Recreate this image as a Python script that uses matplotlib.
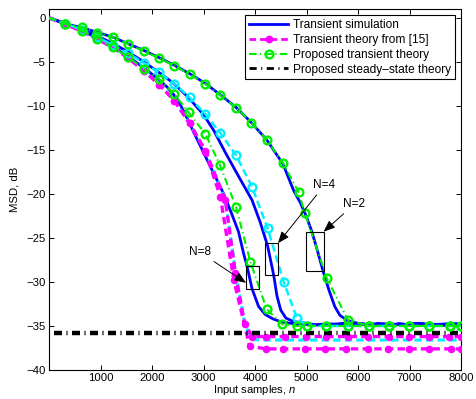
import matplotlib
matplotlib.use("Agg")
import matplotlib.pyplot as plt
from matplotlib.lines import Line2D
from matplotlib.patches import Rectangle

plt.rcParams['font.family'] = ['Liberation Sans', 'DejaVu Sans']
plt.rcParams['mathtext.fontset'] = 'custom'
plt.rcParams['mathtext.it'] = 'Liberation Sans:italic'
plt.rcParams['mathtext.rm'] = 'Liberation Sans'

# ---------------- data ----------------
# Simulations (blue)
sim2_x = [0, 320, 632, 936, 1240, 1537, 1840, 2145, 2436, 2732, 3037, 3327, 3638, 3929, 4233, 4543,
          4749, 4880, 5000, 5105, 5210, 5318, 5440, 5550, 5650, 5800, 6000, 6200, 6400, 6600, 6800,
          7000, 7200, 7400, 7600, 7800, 8000]
sim2_y = [0, -0.7, -1.1, -1.65, -2.2, -2.95, -3.7, -4.55, -5.4, -6.35, -7.45, -8.75, -10.2, -11.9,
          -13.9, -16.6, -19.6, -21.0, -22.6, -24.3, -26.4, -28.7, -31.0, -32.8, -33.8, -34.4, -34.7,
          -34.85, -34.7, -34.9, -34.75, -34.95, -34.7, -34.85, -34.95, -34.7, -34.85]

sim4_x = [0, 300, 600, 900, 1200, 1500, 1800, 2100, 2400, 2700, 3000, 3200, 3424, 3700, 3942, 4100,
          4245, 4362, 4427, 4500, 4600, 4749, 5000, 5200, 5400, 5600, 5800, 6000, 6200, 6400, 6600,
          6800, 7000, 7200, 7400, 7600, 7800, 8000]
sim4_y = [0, -0.6, -1.25, -1.95, -2.8, -3.75, -4.85, -6.05, -7.35, -9.0, -11.0, -12.8, -15.3, -18.2,
          -20.7, -23.2, -25.9, -29.2, -31.6, -33.2, -34.1, -34.5, -34.7, -34.9, -34.75, -34.8, -34.95,
          -34.7, -34.85, -34.8, -34.95, -34.75, -34.85, -34.7, -34.9, -34.8, -34.75, -34.9]

sim8_x = [0, 300, 600, 900, 1200, 1500, 1800, 2100, 2300, 2488, 2650, 2810, 3134, 3392, 3550, 3680,
          3780, 3845, 3942, 4070, 4200, 4350, 4491, 4700, 4900, 5100, 5300, 5500, 5700, 5900, 6100,
          6300, 6500, 6700, 6900, 7100, 7300, 7500, 7700, 7900, 8000]
sim8_y = [0, -0.65, -1.35, -2.2, -3.15, -4.25, -5.5, -6.85, -7.9, -9.2, -11.0, -13.0, -16.9, -20.0,
          -22.3, -24.3, -26.8, -28.2, -30.75, -32.8, -33.7, -34.2, -34.5, -34.7, -34.75, -34.9, -34.8,
          -34.85, -34.7, -34.9, -34.8, -34.95, -34.75, -34.8, -34.9, -34.7, -34.85, -34.8, -34.95,
          -34.75, -34.8]

# Transient theory from [15] (magenta)
th15a_x = [0, 320, 632, 936, 1240, 1537, 1840, 2145, 2436, 2732, 3037, 3327, 3590, 3895, 4220, 4542,
           4962, 5350, 5771, 6191, 6579, 6998, 7386, 7806, 8000]
th15a_y = [0, -0.7, -1.5, -2.4, -3.35, -4.55, -6.0, -7.6, -9.4, -12.0, -15.2, -20.3, -29.8, -37.3,
           -37.6, -37.6, -37.6, -37.6, -37.6, -37.6, -37.6, -37.6, -37.6, -37.6, -37.6]

th15b_x = [0, 320, 632, 936, 1240, 1537, 1840, 2145, 2436, 2732, 3037, 3424, 3618, 3800, 3950, 4220,
           4575, 4982, 5383, 5803, 6191, 6599, 6987, 7386, 7774, 8000]
th15b_y = [0, -0.7, -1.5, -2.4, -3.35, -4.55, -6.0, -7.6, -9.4, -12.0, -15.1, -20.7, -29.0, -34.8,
           -36.2, -36.2, -36.2, -36.2, -36.2, -36.2, -36.2, -36.2, -36.2, -36.2, -36.2, -36.2]

# cyan curves
cyc_x = [0, 320, 632, 936, 1240, 1537, 1840, 2145, 2436, 2732, 3037, 3424, 3630, 3810, 3960, 4220,
         4575, 4982, 5383, 5803, 6191, 6599, 6987, 7386, 7774, 8000]
cyc_y = [0, -0.7, -1.5, -2.4, -3.35, -4.55, -6.0, -7.6, -9.4, -12.0, -15.1, -20.7, -29.2, -35.0,
         -36.55, -36.6, -36.6, -36.6, -36.6, -36.6, -36.6, -36.6, -36.6, -36.6, -36.6, -36.6]

cy4_x = [0, 320, 632, 936, 1240, 1537, 1840, 2131, 2436, 2732, 3037, 3327, 3632, 3942, 4245, 4555,
         4814, 5008, 5383, 5803, 6216, 6604, 6992, 7380, 7793, 8000]
cy4_y = [0, -0.65, -1.35, -2.2, -3.1, -4.05, -5.1, -6.2, -7.5, -9.05, -10.95, -13.1, -15.6, -19.2,
         -23.9, -29.96, -34.1, -35.0, -35.0, -35.0, -35.0, -35.0, -35.0, -35.0, -35.0, -35.0]

# Proposed transient theory (green)
pr2_x = [0, 320, 632, 936, 1240, 1537, 1840, 2145, 2436, 2732, 3037, 3327, 3638, 3929, 4233, 4543,
         4846, 4970, 5396, 5803, 6216, 6604, 6992, 7380, 7793, 8000]
pr2_y = [0, -0.7, -1.1, -1.67, -2.2, -3.0, -3.75, -4.6, -5.45, -6.4, -7.5, -8.8, -10.2, -11.9, -13.9,
         -16.5, -19.8, -22.2, -29.6, -34.3, -35.0, -35.0, -35.0, -35.0, -35.0, -35.0]

pr8_x = [0, 320, 632, 936, 1240, 1537, 1840, 2145, 2436, 2713, 3037, 3318, 3632, 3909, 4227, 4530,
         4814, 5008, 5383, 5803, 6216, 6604, 6992, 7380, 7793, 8000]
pr8_y = [0, -0.7, -1.45, -2.4, -3.35, -4.45, -5.8, -7.0, -8.7, -10.75, -13.2, -16.7, -21.5, -27.7,
         -33.1, -34.8, -35.0, -35.0, -35.0, -35.0, -35.0, -35.0, -35.0, -35.0, -35.0, -35.0]

# Proposed steady-state theory (black)
ss_x = [100, 8000]
ss_y = [-35.8, -35.8]

legend_labels = ['Transient simulation', 'Transient theory from [15]',
                 'Proposed transient theory', 'Proposed steady\u2013state theory']
xticks = [1000, 2000, 3000, 4000, 5000, 6000, 7000, 8000]
yticks = [-40, -35, -30, -25, -20, -15, -10, -5, 0]

# ---------------- styles ----------------
BLUE = '#0000ff'
MAG = '#ff00ff'
GRN = '#00ee00'
CYN = '#00f0ff'

blue_kw = dict(color=BLUE, lw=2.0, zorder=2)
mag_kw = dict(color=MAG, lw=2.4, dashes=(2.2, 1.3), marker='o', ms=4.6, mfc=MAG, mec=MAG, mew=0.8)
grn_kw = dict(color=GRN, lw=1.5, dashes=(3.6, 1.6, 0.6, 1.6), marker='o', ms=5.6, mfc='none',
              mec=GRN, mew=1.7)
cyn_kw = dict(color=CYN, lw=1.8, dashes=(3.0, 1.6), marker='o', ms=5.6, mfc='none', mec=CYN, mew=1.7)
blk_kw = dict(color='k', lw=3.2, dashes=(1.8, 1.0, 0.25, 1.0))

fig = plt.figure(figsize=(4.76, 3.99), dpi=100)
ax = fig.add_axes([49 / 476, 29 / 399, 412 / 476, 361 / 399])

ax.plot(sim2_x, sim2_y, **blue_kw)
ax.plot(sim4_x, sim4_y, **blue_kw)
ax.plot(sim8_x, sim8_y, **blue_kw)

ax.plot(cyc_x, cyc_y, color=CYN, lw=2.2, dashes=(2.4, 1.4), zorder=2.5)
ax.plot(th15b_x, th15b_y, markevery=list(range(1, len(th15b_x))), zorder=3, **mag_kw)
ax.plot(th15a_x, th15a_y, markevery=list(range(1, len(th15a_x))), zorder=3.1, **mag_kw)
ax.plot(cy4_x, cy4_y, markevery=list(range(1, len(cy4_x))), zorder=3.5, **cyn_kw)
ax.plot(ss_x, ss_y, zorder=3.8, **blk_kw)
ax.plot(pr8_x, pr8_y, markevery=list(range(1, len(pr8_x))), zorder=4, **grn_kw)
ax.plot(pr2_x, pr2_y, markevery=list(range(1, len(pr2_x))), zorder=4, **grn_kw)

# annotation boxes and arrows
boxes = [(3826, -30.75, 244, 2.55), (4200, -29.2, 246, 3.6), (4995, -28.7, 336, 4.4)]
for bx, by, bw, bh in boxes:
    ax.add_patch(Rectangle((bx, by), bw, bh, fill=False, ec='k', lw=0.8, zorder=5))

arrow_kw = dict(arrowstyle='-|>,head_length=0.7,head_width=0.28', color='k', lw=0.7,
                mutation_scale=10, shrinkA=1, shrinkB=0)
ax.annotate('N=8', xy=(3826, -30.1), xytext=(2925, -26.6), ha='center', va='center', fontsize=8.5,
            arrowprops=arrow_kw, zorder=6)
ax.annotate('N=4', xy=(4446, -25.6), xytext=(5350, -19.0), ha='center', va='center', fontsize=8.5,
            arrowprops=arrow_kw, zorder=6)
ax.annotate('N=2', xy=(5331, -24.3), xytext=(5932, -21.15), ha='center', va='center', fontsize=8.5,
            arrowprops=arrow_kw, zorder=6)

ax.set_xlim(0, 8000)
ax.set_ylim(-40, 1)
ax.set_xticks(xticks)
ax.set_yticks(yticks)
ax.tick_params(direction='in', length=3.5, width=0.7, top=True, right=True, labelsize=8.2, pad=2.5)
for s in ax.spines.values():
    s.set_linewidth(0.8)
ax.set_xlabel('Input samples, $n$', fontsize=8, labelpad=0)
ax.set_ylabel('MSD, dB', fontsize=8.2, labelpad=5)

handles = [
    Line2D([], [], color=BLUE, lw=2.0),
    Line2D([], [], color=MAG, lw=2.0, dashes=(2.4, 1.4), marker='o', ms=4.6, mfc=MAG, mec=MAG),
    Line2D([], [], color=GRN, lw=1.5, dashes=(3.6, 1.6, 0.6, 1.6), marker='o', ms=5.6, mfc='none',
           mec=GRN, mew=1.7),
    Line2D([], [], color='k', lw=2.0, dashes=(2.6, 1.6, 0.4, 1.6)),
]
leg = ax.legend(handles, legend_labels, loc='upper right', bbox_to_anchor=(0.985, 0.983),
                borderaxespad=0, fontsize=8.6, handlelength=3.3, handletextpad=0.4,
                labelspacing=0.25, borderpad=0.3, fancybox=False, framealpha=1, edgecolor='k')
leg.get_frame().set_linewidth(0.8)
leg.set_zorder(10)

fig.savefig('out.png', dpi=100)
